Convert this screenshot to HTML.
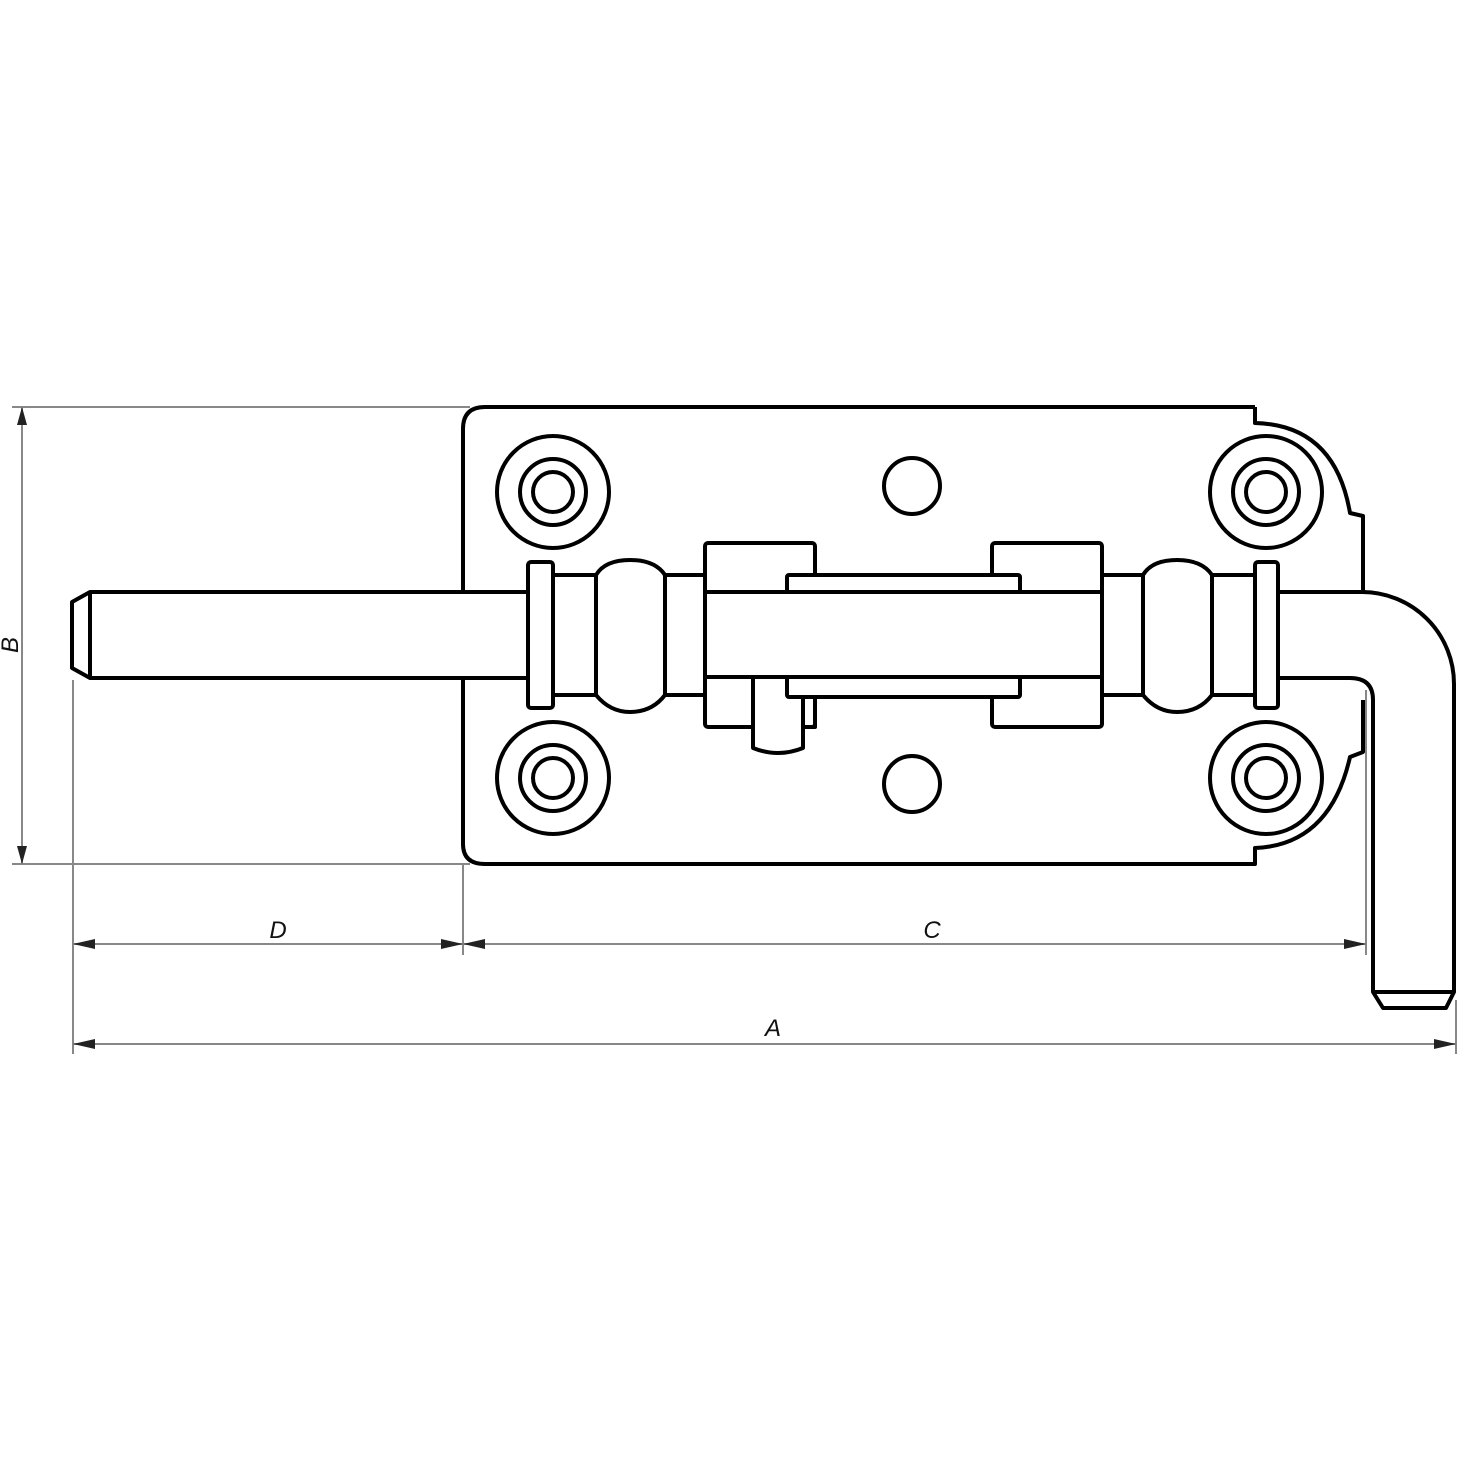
<!DOCTYPE html>
<html><head><meta charset="utf-8"><style>html,body{margin:0;padding:0;background:#fff}svg{display:block}</style></head>
<body>
<svg width="1460" height="1460" viewBox="0 0 1460 1460" xmlns="http://www.w3.org/2000/svg">
<rect width="1460" height="1460" fill="#fff"/>
<!-- dimension lines -->
<g stroke="#888" stroke-width="2" fill="none">
<line x1="12" y1="407" x2="470" y2="407"/>
<line x1="12" y1="864" x2="470" y2="864"/>
<line x1="22" y1="407" x2="22" y2="864"/>
<line x1="73" y1="680" x2="73" y2="1054"/>
<line x1="463" y1="864" x2="463" y2="955"/>
<line x1="1366" y1="690" x2="1366" y2="955"/>
<line x1="1456" y1="1000" x2="1456" y2="1054"/>
<line x1="73" y1="944" x2="1366" y2="944"/>
<line x1="73" y1="1044" x2="1456" y2="1044"/>
</g>
<g fill="#222">
<polygon points="22,407 17,425 27,425"/><polygon points="22,864 17,846 27,846"/>
<polygon points="73,944 95,939 95,949"/><polygon points="463,944 441,939 441,949"/>
<polygon points="463,944 485,939 485,949"/><polygon points="1366,944 1344,939 1344,949"/>
<polygon points="73,1044 95,1039 95,1049"/><polygon points="1456,1044 1434,1039 1434,1049"/>
</g>
<g font-family="Liberation Sans, sans-serif" font-style="italic" font-size="24" fill="#111" text-anchor="middle">
<text x="278" y="938">D</text>
<text x="932" y="938">C</text>
<text x="773" y="1036">A</text>
<text x="0" y="0" transform="translate(18,645) rotate(-90)">B</text>
</g>
<g stroke="#000" stroke-width="4" fill="none" stroke-linejoin="round">
<!-- plate -->
<path d="M1255,407 L485,407 Q463,407 463,429 L463,590 M463,680 L463,844 Q463,864 485,864 L1255,864 L1255,848 Q1330,845 1350,757 L1363,752 L1363,700"/>
<path d="M1255,407 L1255,423 Q1335,425 1350,513 L1363,516 L1363,592"/>
<!-- bosses -->
<circle cx="553" cy="492" r="56"/><circle cx="553" cy="492" r="33"/><circle cx="553" cy="492" r="20"/>
<circle cx="1266" cy="492" r="56"/><circle cx="1266" cy="492" r="33"/><circle cx="1266" cy="492" r="20"/>
<circle cx="553" cy="778" r="56"/><circle cx="553" cy="778" r="33"/><circle cx="553" cy="778" r="20"/>
<circle cx="1266" cy="778" r="56"/><circle cx="1266" cy="778" r="33"/><circle cx="1266" cy="778" r="20"/>
<circle cx="912" cy="486" r="28"/><circle cx="912" cy="784" r="28"/>
<!-- left rod -->
<path d="M528,592 L90,592 L72,602 L72,668 L90,678 L528,678"/>
<line x1="90" y1="592" x2="90" y2="678"/>
<!-- collars -->
<rect x="528" y="562" width="25" height="146" rx="3" fill="#fff"/>
<rect x="1255" y="562" width="23" height="146" rx="3" fill="#fff"/>
<!-- rings -->
<path d="M553,575 L596,575 M553,695 L596,695 M665,575 L705,575 M665,695 L705,695"/>
<path d="M596,575 L596,695 M665,575 L665,695"/>
<path d="M596,575 Q605,560 630,560 Q655,560 665,575 M596,695 Q610,712 630,712 Q652,712 665,695"/>
<path d="M1103,575 L1143,575 M1103,695 L1143,695 M1212,575 L1255,575 M1212,695 L1255,695"/>
<path d="M1143,575 L1143,695 M1212,575 L1212,695"/>
<path d="M1143,575 Q1152,560 1177,560 Q1202,560 1212,575 M1143,695 Q1157,712 1177,712 Q1199,712 1212,695"/>
<!-- blocks -->
<rect x="705" y="543" width="110" height="184" rx="3"/>
<rect x="992" y="543" width="110" height="184" rx="3"/>
<!-- pin + tab -->
<path d="M803,697 L815,697 L815,727 L803,727"/>
<path d="M753,677 L753,748 Q778,758 803,748 L803,677" fill="#fff"/>
<!-- inner rod -->
<rect x="705" y="592" width="397" height="85" fill="#fff"/>
<!-- slot plates -->
<rect x="787" y="575" width="233" height="17" rx="2" fill="#fff"/>
<rect x="787" y="677" width="233" height="20" rx="2" fill="#fff"/>
<!-- bent rod -->
<path d="M1278,592 L1362,592 A92,92 0 0 1 1454,684 L1454,992 L1446,1008 L1383,1008 L1373,992 L1373,700 Q1373,678 1350,678 L1278,678"/>
<line x1="1373" y1="992" x2="1454" y2="992"/>
</g>
</svg>
</body></html>
